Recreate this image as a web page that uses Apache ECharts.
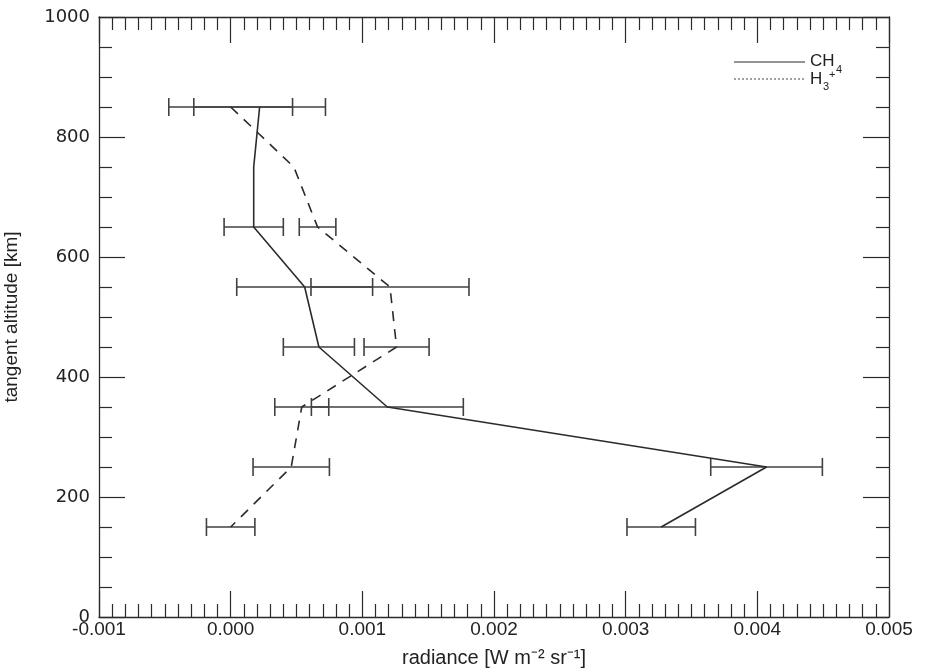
<!DOCTYPE html>
<html>
<head>
<meta charset="utf-8">
<script src="https://cdn.jsdelivr.net/npm/echarts@6/dist/echarts.min.js"></script>
<style>html,body{margin:0;padding:0;background:#fff}#c{width:927px;height:668px}</style>
</head>
<body>
<div id="c"></div>
<script>
const altitudes = [850, 750, 650, 550, 450, 350, 250, 150];
const ch4Values = [0.00022, 0.000175, 0.000175, 0.000562, 0.00067, 0.00119, 0.00407, 0.00327];
const ch4Errors = [0.0005, null, 0.000225, 0.000516, 0.00027, 0.000577, 0.000424, 0.00026];
const h3Values = [0.0, 0.00048, 0.00066, 0.00121, 0.00126, 0.00054, 0.00046, 0.0];
const h3Errors = [0.00047, null, 0.000139, 0.0006, 0.000247, 0.000205, 0.00029, 0.000184];
const xTicks = [-0.001, 0.000, 0.001, 0.002, 0.003, 0.004, 0.005];
const yTicks = [0, 200, 400, 600, 800, 1000];

const chart = echarts.init(document.getElementById('c'), null, {renderer: 'canvas'});
const ink = '#2b2b2b';

function pts(vals) { return vals.map((v, i) => [v, altitudes[i]]); }
function errData(vals, errs) {
  const out = [];
  vals.forEach((v, i) => { if (errs[i] != null) out.push([v - errs[i], v + errs[i], altitudes[i]]); });
  return out;
}
function errRender(params, api) {
  const lo = api.coord([api.value(0), api.value(2)]);
  const hi = api.coord([api.value(1), api.value(2)]);
  const h = 9;
  const st = {stroke: '#404040', lineWidth: 1.6};
  return {type: 'group', children: [
    {type: 'line', shape: {x1: lo[0], y1: lo[1], x2: hi[0], y2: hi[1]}, style: st},
    {type: 'line', shape: {x1: lo[0], y1: lo[1] - h, x2: lo[0], y2: lo[1] + h}, style: st},
    {type: 'line', shape: {x1: hi[0], y1: hi[1] - h, x2: hi[0], y2: hi[1] + h}, style: st}
  ]};
}

const xBase = {
  type: 'value', min: xTicks[0], max: xTicks[xTicks.length - 1], interval: 0.001,
  axisLine: {show: true, onZero: false, lineStyle: {color: ink, width: 1.3}},
  axisTick: {show: true, inside: true, length: 26, lineStyle: {color: ink, width: 1.2}},
  minorTick: {show: true, splitNumber: 10, length: 13, lineStyle: {color: ink, width: 1.2}},
  splitLine: {show: false}, minorSplitLine: {show: false}
};
const yBase = {
  type: 'value', min: yTicks[0], max: yTicks[yTicks.length - 1], interval: 200,
  axisLine: {show: true, onZero: false, lineStyle: {color: ink, width: 1.3}},
  axisTick: {show: true, inside: true, length: 26, lineStyle: {color: ink, width: 1.2}},
  minorTick: {show: true, splitNumber: 4, length: 13, lineStyle: {color: ink, width: 1.2}},
  splitLine: {show: false}, minorSplitLine: {show: false}
};

const legFont = '17px "Liberation Sans", sans-serif';
const subFont = '11px "Liberation Sans", sans-serif';

chart.setOption({
  animation: false,
  backgroundColor: '#fff',
  grid: {left: 99, right: 38, top: 17, bottom: 51, containLabel: false, outerBoundsMode: 'none'},
  xAxis: [
    Object.assign({}, xBase, {
      position: 'bottom',
      name: 'radiance [W m\u207B\u00B2 sr\u207B\u00B9]', nameLocation: 'middle', nameGap: 31,
      nameTextStyle: {fontFamily: 'Liberation Sans Narrow, Liberation Sans, sans-serif', fontSize: 20, color: '#222'},
      axisLabel: {show: true, margin: 3, fontFamily: 'Liberation Sans Narrow, Liberation Sans, sans-serif', fontSize: 19, color: '#222',
        formatter: v => v.toFixed(3)}
    }),
    Object.assign({}, xBase, {position: 'top', axisLabel: {show: false}})
  ],
  yAxis: [
    Object.assign({}, yBase, {
      position: 'left',
      name: 'tangent altitude [km]', nameLocation: 'middle', nameGap: 78,
      nameTextStyle: {fontFamily: 'Liberation Sans, sans-serif', fontSize: 19, color: '#222'},
      axisLabel: {show: true, margin: 9, fontFamily: 'DejaVu Sans, sans-serif', fontSize: 18, color: '#222',
        formatter: v => String(v)}
    }),
    Object.assign({}, yBase, {position: 'right', axisLabel: {show: false}})
  ],
  series: [
    {name: 'CH4', type: 'line', data: pts(ch4Values), symbol: 'none', xAxisIndex: 0, yAxisIndex: 0,
      lineStyle: {color: ink, width: 1.6}, z: 3},
    {name: 'H3+', type: 'line', data: pts(h3Values), symbol: 'none', xAxisIndex: 0, yAxisIndex: 0,
      lineStyle: {color: ink, width: 1.6, type: [10, 8]}, z: 3},
    {name: 'CH4 err', type: 'custom', data: errData(ch4Values, ch4Errors), renderItem: errRender,
      encode: {x: [0, 1], y: 2}, z: 2},
    {name: 'H3+ err', type: 'custom', data: errData(h3Values, h3Errors), renderItem: errRender,
      encode: {x: [0, 1], y: 2}, z: 2}
  ],
  graphic: [
    {type: 'line', shape: {x1: 734, y1: 62, x2: 805, y2: 62}, style: {stroke: ink, lineWidth: 1.2}},
    {type: 'line', shape: {x1: 734, y1: 79, x2: 805, y2: 79}, style: {stroke: '#555', lineWidth: 1.1, lineDash: [2, 2]}},
    {type: 'text', x: 810, y: 53, style: {text: 'CH', font: legFont, fill: '#222'}},
    {type: 'text', x: 836, y: 64, style: {text: '4', font: subFont, fill: '#222'}},
    {type: 'text', x: 810, y: 71, style: {text: 'H', font: legFont, fill: '#222'}},
    {type: 'text', x: 823, y: 81, style: {text: '3', font: subFont, fill: '#222'}},
    {type: 'text', x: 829, y: 69, style: {text: '+', font: subFont, fill: '#222'}}
  ]
});
</script>
</body>
</html>
